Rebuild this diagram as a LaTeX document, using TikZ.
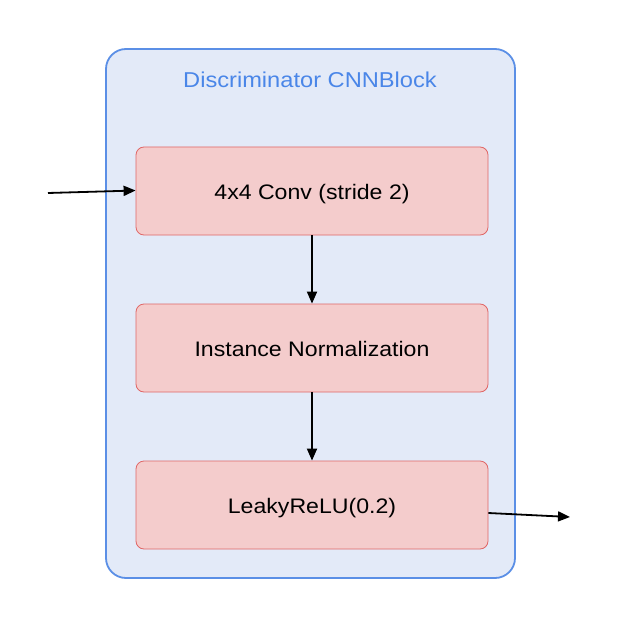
\documentclass[tikz,border=0pt]{standalone}
\usepackage{fontspec}
\setmainfont[FakeStretch=1.1]{Liberation Sans}
\usetikzlibrary{arrows.meta}
\definecolor{outerfill}{HTML}{E3EAF8}
\definecolor{outerdraw}{HTML}{5B8FE6}
\definecolor{titlecol}{HTML}{4A86E8}
\definecolor{boxfill}{HTML}{F4CCCC}
\definecolor{boxdraw}{HTML}{E06666}
\tikzset{
  outerbox/.style={draw=outerdraw, fill=outerfill, line width=1.8pt, rounded corners=20pt,
    minimum width=409pt, minimum height=529pt, inner sep=0pt},
  layerbox/.style={draw=boxdraw, fill=boxfill, line width=0.8pt, rounded corners=8pt,
    minimum width=352pt, minimum height=88pt, inner sep=0pt,
    text height=21pt, text depth=4pt,
    font=\fontsize{21}{24}\selectfont},
  titletext/.style={text=titlecol, font=\fontsize{21.5}{26}\selectfont, inner sep=0pt},
  flow/.style={-{Triangle[length=12pt,width=10pt]}, line width=1.8pt, black},
}
\begin{document}
\begin{tikzpicture}[x=1pt,y=-1pt]
\useasboundingbox (0,0) rectangle (620,628);
\node[outerbox] (outer) at (310.5,313.5) {};
\node[titletext] (title) at (310,79.5) {Discriminator CNNBlock};
\node[layerbox] (conv) at (312,191) {4x4 Conv (stride 2)};
\node[layerbox] (norm) at (312,348) {Instance Normalization};
\node[layerbox] (relu) at (312,505) {LeakyReLU(0.2)};
\coordinate (in) at (48,193);
\coordinate (out) at (570,517);
\draw[flow] (in) -- ([yshift=0.5pt]conv.west);
\draw[flow] (conv) -- (norm);
\draw[flow] (norm) -- (relu);
\draw[flow] ([yshift=-8pt]relu.east) -- (out);
\end{tikzpicture}
\end{document}
